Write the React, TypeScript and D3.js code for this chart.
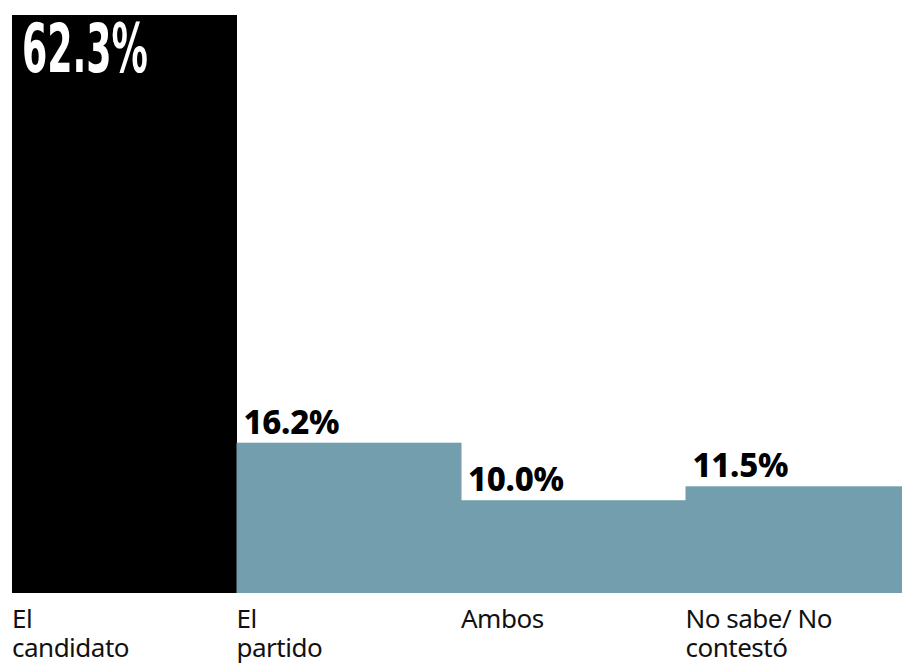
import React from "react";
import * as d3 from "d3";

const categories = ["El candidato", "El partido", "Ambos", "No sabe/ No contestó"];
const categoryLines = [["El", "candidato"], ["El", "partido"], ["Ambos"], ["No sabe/ No", "contestó"]];
const values = [62.3, 16.2, 10.0, 11.5];
const valueLabels = ["62.3%", "16.2%", "10.0%", "11.5%"];
const barColors = ["#000000", "#739EAD", "#739EAD", "#739EAD"];

const W = 902;
const H = 667;

export default function App() {
  const x = d3.scaleBand<string>().domain(categories).range([12, 910]).padding(0);
  const y = d3.scaleLinear().domain([0, 62.3]).range([593, 15]);

  return (
    <div style={{ position: "fixed", left: 0, top: 0, width: W, height: H, overflow: "hidden", background: "#fff" }}>
      <svg width={W} height={H} style={{ display: "block" }}>
        {categories.map((c, i) => {
          const bx = x(c)!;
          const by = y(values[i]);
          return (
            <g key={c}>
              <rect x={bx} y={by} width={x.bandwidth() + 0.5} height={y(0) - by} fill={barColors[i]} />
              {i === 0 ? (
                <text
                  x={bx + 10}
                  y={by + 57}
                  fill="#fff"
                  fontFamily="'Liberation Sans Narrow', 'DejaVu Sans Condensed', sans-serif"
                  fontWeight={700}
                  fontSize={67}
                  textLength={126}
                  lengthAdjust="spacingAndGlyphs"
                >
                  {valueLabels[i]}
                </text>
              ) : (
                <text
                  x={bx + 7}
                  y={by - 9}
                  fill="#000"
                  fontFamily="'Noto Sans', sans-serif"
                  fontWeight={800}
                  fontSize={33}
                  letterSpacing={-0.3}
                >
                  {valueLabels[i]}
                </text>
              )}
              {categoryLines[i].map((line, j) => (
                <text
                  key={j}
                  x={bx}
                  y={628 + j * 29}
                  fill="#111"
                  fontFamily="'Noto Sans', sans-serif"
                  fontSize={26}
                  letterSpacing={-0.5}
                >
                  {line}
                </text>
              ))}
            </g>
          );
        })}
      </svg>
    </div>
  );
}
